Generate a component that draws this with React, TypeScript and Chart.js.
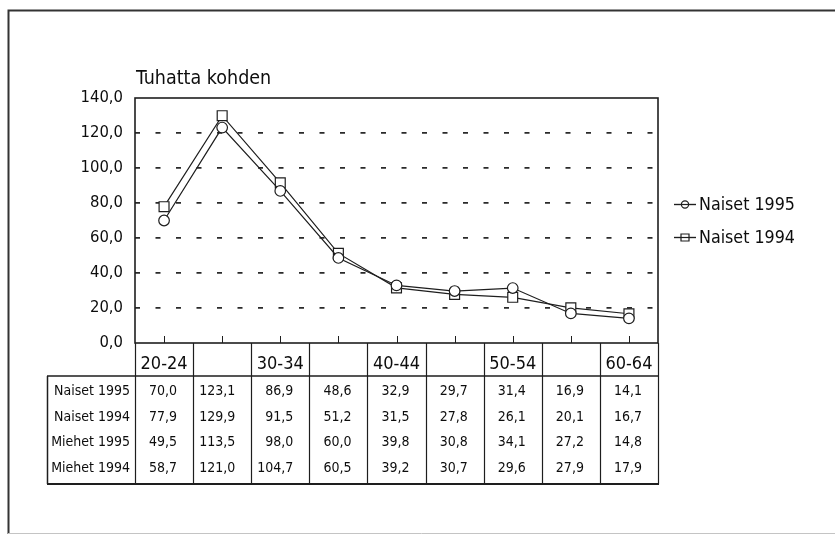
import React, { useEffect, useRef } from "react";
import { Chart, registerables } from "chart.js";

Chart.register(...registerables);

// ---- data ----
const ageLabels = ["20-24", "", "30-34", "", "40-44", "", "50-54", "", "60-64"];
const naiset1995 = [70.0, 123.1, 86.9, 48.6, 32.9, 29.7, 31.4, 16.9, 14.1];
const naiset1994 = [77.9, 129.9, 91.5, 51.2, 31.5, 27.8, 26.1, 20.1, 16.7];
const miehet1995 = [49.5, 113.5, 98.0, 60.0, 39.8, 30.8, 34.1, 27.2, 14.8];
const miehet1994 = [58.7, 121.0, 104.7, 60.5, 39.2, 30.7, 29.6, 27.9, 17.9];
const tableRowLabels = ["Naiset 1995", "Naiset 1994", "Miehet 1995", "Miehet 1994"];
const tableRowValues = [naiset1995, naiset1994, miehet1995, miehet1994];
const yMin = 0;
const yMax = 140;
const yStep = 20;
const yTitle = "Tuhatta kohden";

const FONT = "'Liberation Sans Narrow', 'DejaVu Sans Condensed', 'Arial Narrow', 'Roboto', sans-serif";
const INK = "#0d0d0d";
const LINE = "#1e1e1e";

const fmt = (v: number) => v.toFixed(1).replace(".", ",");

const overlayPlugin = {
  id: "overlay",
  afterDraw(chart: any) {
    const { ctx, chartArea } = chart;
    const xs = chart.scales.x;
    const { left, right, top, bottom } = chartArea;
    const n = ageLabels.length;
    const colW = (right - left) / n;
    ctx.save();

    // outer frame
    ctx.strokeStyle = "#333";
    ctx.lineWidth = 2;
    ctx.beginPath();
    ctx.moveTo(8.5, 534);
    ctx.lineTo(8.5, 10.5);
    ctx.lineTo(835, 10.5);
    ctx.stroke();
    ctx.strokeStyle = "#c4c4c4";
    ctx.lineWidth = 1;
    ctx.beginPath();
    ctx.moveTo(8, 533.5);
    ctx.lineTo(835, 533.5);
    ctx.stroke();

    // plot box
    ctx.strokeStyle = LINE;
    ctx.lineWidth = 1.6;
    ctx.strokeRect(left, top, right - left, bottom - top);

    // tick marks at category centres (inside plot)
    ctx.lineWidth = 1;
    for (let i = 0; i < n; i++) {
      const x = Math.round(xs.getPixelForValue(i)) + 0.5;
      ctx.beginPath();
      ctx.moveTo(x, bottom);
      ctx.lineTo(x, bottom - 7);
      ctx.stroke();
    }

    // title
    ctx.fillStyle = INK;
    ctx.font = `19.5px ${FONT}`;
    ctx.textAlign = "left";
    ctx.textBaseline = "middle";
    ctx.fillText(yTitle, left + 1, 79);

    // data table
    const headerH = 33;
    const rowH = 25.5;
    const tableTop = bottom + headerH;
    const tableBottom = tableTop + 3 + rowH * tableRowValues.length + 3;
    const tableLeft = 47;

    ctx.strokeStyle = LINE;
    ctx.lineWidth = 1.2;
    for (let i = 0; i <= n; i++) {
      const x = Math.round(left + i * colW) + 0.5;
      ctx.beginPath();
      ctx.moveTo(x, bottom);
      ctx.lineTo(x, tableBottom);
      ctx.stroke();
    }
    ctx.lineWidth = 1.5;
    ctx.beginPath();
    ctx.moveTo(tableLeft, tableTop);
    ctx.lineTo(right, tableTop);
    ctx.moveTo(tableLeft + 0.5, tableTop);
    ctx.lineTo(tableLeft + 0.5, tableBottom);
    ctx.stroke();
    ctx.lineWidth = 2;
    ctx.beginPath();
    ctx.moveTo(tableLeft, tableBottom);
    ctx.lineTo(right + 1, tableBottom);
    ctx.stroke();

    // header labels
    ctx.fillStyle = INK;
    ctx.font = `18px ${FONT}`;
    ctx.textAlign = "center";
    ctx.textBaseline = "middle";
    for (let i = 0; i < n; i++) {
      if (ageLabels[i]) ctx.fillText(ageLabels[i], xs.getPixelForValue(i), bottom + 21);
    }

    // rows
    ctx.font = `14px ${FONT}`;
    tableRowValues.forEach((vals, r) => {
      const y = tableTop + 3 + rowH * (r + 0.5);
      ctx.textAlign = "right";
      ctx.fillText(tableRowLabels[r], left - 5, y);
      vals.forEach((v, i) => {
        ctx.fillText(fmt(v), left + (i + 1) * colW - 16, y);
      });
    });

    // legend
    const legendX = 674;
    const legendYs = [204, 237];
    chart.data.datasets.forEach((ds: any, i: number) => {
      const y = legendYs[i];
      ctx.strokeStyle = LINE;
      ctx.lineWidth = 1.2;
      ctx.beginPath();
      ctx.moveTo(legendX, y + 0.5);
      ctx.lineTo(legendX + 22, y + 0.5);
      ctx.stroke();
      ctx.fillStyle = "#fff";
      ctx.beginPath();
      if (ds.pointStyle === "rect") {
        ctx.rect(legendX + 7, y - 3, 8, 7);
      } else {
        ctx.arc(legendX + 11, y + 0.5, 3.6, 0, Math.PI * 2);
      }
      ctx.fill();
      ctx.stroke();
      ctx.beginPath();
      ctx.moveTo(legendX, y + 0.5);
      ctx.lineTo(legendX + 22, y + 0.5);
      ctx.stroke();
      ctx.fillStyle = INK;
      ctx.font = `17.7px ${FONT}`;
      ctx.textAlign = "left";
      ctx.textBaseline = "middle";
      ctx.fillText(ds.label, legendX + 25, y + 1);
    });

    ctx.restore();
  },
};

export default function App() {
  const ref = useRef<HTMLCanvasElement | null>(null);

  useEffect(() => {
    document.body.style.margin = "0";
    const canvas = ref.current;
    if (!canvas) return;
    const chart = new Chart(canvas, {
      type: "line",
      data: {
        labels: ageLabels,
        datasets: [
          {
            label: "Naiset 1995",
            data: naiset1995,
            borderColor: LINE,
            borderWidth: 1.2,
            pointStyle: "circle",
            pointRadius: 5.3,
            pointBorderWidth: 1.2,
            pointBorderColor: LINE,
            pointBackgroundColor: "#fff",
            tension: 0,
          },
          {
            label: "Naiset 1994",
            data: naiset1994,
            borderColor: LINE,
            borderWidth: 1.2,
            pointStyle: "rect",
            pointRadius: 7,
            pointBorderWidth: 1.2,
            pointBorderColor: LINE,
            pointBackgroundColor: "#fff",
            tension: 0,
          },
        ],
      },
      options: {
        responsive: false,
        animation: false,
        layout: { padding: { left: 0, top: 98, right: 177, bottom: 192 } },
        plugins: {
          legend: { display: false },
          title: { display: false },
          tooltip: { enabled: false },
        },
        scales: {
          x: {
            type: "category",
            offset: true,
            grid: { display: false, drawTicks: false },
            border: { display: false },
            ticks: { display: false },
            afterFit: (s: any) => {
              s.height = 0;
            },
          },
          y: {
            min: yMin,
            max: yMax,
            afterFit: (s: any) => {
              s.width = 135;
            },
            ticks: {
              stepSize: yStep,
              padding: 12,
              color: INK,
              font: { family: FONT, size: 16.5 },
              callback: (v: any) => fmt(Number(v)),
            },
            grid: {
              drawTicks: false,
              lineWidth: 1.8,
              color: (c: any) =>
                c.tick && (c.tick.value === yMin || c.tick.value === yMax) ? "rgba(0,0,0,0)" : "#2a2a2a",
            },
            border: { display: false, dash: [5, 15.5], dashOffset: 0 },
          },
        },
      },
      plugins: [overlayPlugin],
    });
    return () => chart.destroy();
  }, []);

  return (
    <div style={{ width: 835, height: 535, background: "#fff" }}>
      <canvas ref={ref} width={835} height={535} style={{ display: "block" }} />
    </div>
  );
}
